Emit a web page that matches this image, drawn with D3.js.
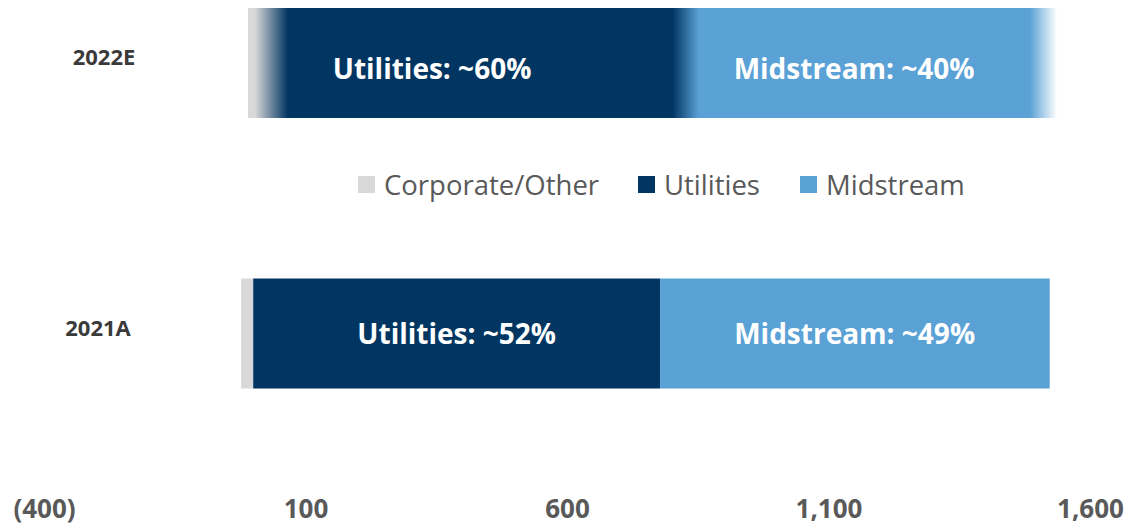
<!DOCTYPE html>
<html>
<head>
<meta charset="utf-8">
<script src="https://cdn.jsdelivr.net/npm/d3@7"></script>
<style>
  body { margin: 0; background: #fff; }
  text { font-family: "Open Sans", "DejaVu Sans", sans-serif; }
</style>
</head>
<body>
<div id="chart"></div>
<script>
const w = 1133;
const h = 525;
const barH = 110;

// data
const years = ["2022E", "2021A"];
const corporate = [-10, -23];
const utilities = [827, 778];
const midstream = [684, 745];
// 2022E is an estimate: soft transitions between segments (value ranges)
const fade2022 = [[3, 66], [802, 852], [1485, 1537]];
const utilLabels = ["Utilities: ~60%", "Utilities: ~52%"];
const midLabels = ["Midstream: ~40%", "Midstream: ~49%"];
const labelAt = [[342, 1149], [389, 1150]];
const ticks = [-400, 100, 600, 1100, 1600];
const series = ["Corporate/Other", "Utilities", "Midstream"];

const colors = {
  "Corporate/Other": "#d9d9d9",
  "Utilities": "#023662",
  "Midstream": "#5aa1d6"
};

var svg = d3.select("#chart")
  .append("svg")
    .attr("width", w)
    .attr("height", h);

var x = d3.scaleLinear()
  .domain([-400, 1600])
  .range([44, 1090]);

var y = d3.scalePoint()
  .domain(years)
  .range([63, 333.5]);

var defs = svg.append("defs");

// gradient for the estimated bar
var f = fade2022;
var x0 = x(corporate[0]), x1 = x(f[2][1]);
var pos = (v) => (x(v) - x0) / (x1 - x0);
var grad = defs.append("linearGradient")
  .attr("id", "est")
  .attr("gradientUnits", "userSpaceOnUse")
  .attr("x1", x0).attr("x2", x1)
  .attr("y1", 0).attr("y2", 0);
[
  [0, colors["Corporate/Other"], 1],
  [pos(f[0][0]), colors["Corporate/Other"], 1],
  [pos(f[0][1]), colors["Utilities"], 1],
  [pos(f[1][0]), colors["Utilities"], 1],
  [pos(f[1][1]), colors["Midstream"], 1],
  [pos(f[2][0]), colors["Midstream"], 1],
  [1, colors["Midstream"], 0]
].forEach((s) => {
  grad.append("stop")
    .attr("offset", s[0])
    .attr("stop-color", s[1])
    .attr("stop-opacity", s[2]);
});

// 2022E bar
svg.append("rect")
  .attr("x", x0)
  .attr("y", y(years[0]) - barH / 2)
  .attr("width", x1 - x0)
  .attr("height", barH)
  .attr("fill", "url(#est)");

// 2021A bar, stacked segments
var i1 = 1;
var segs = [
  { key: "Corporate/Other", a: corporate[i1], b: 0 },
  { key: "Utilities", a: 0, b: utilities[i1] },
  { key: "Midstream", a: utilities[i1], b: utilities[i1] + midstream[i1] }
];
svg.selectAll(".seg")
  .data(segs)
  .enter()
  .append("rect")
    .attr("class", "seg")
    .attr("x", (d) => x(d.a))
    .attr("y", y(years[1]) - barH / 2)
    .attr("width", (d) => x(d.b) - x(d.a))
    .attr("height", barH)
    .attr("fill", (d) => colors[d.key]);

// bar labels
var labelShift = [16, 10];
years.forEach((yr, i) => {
  [utilLabels[i], midLabels[i]].forEach((t, j) => {
    svg.append("text")
      .attr("x", x(labelAt[i][j]))
      .attr("y", y(yr) + labelShift[i])
      .attr("text-anchor", "middle")
      .attr("fill", "#fff")
      .attr("font-weight", "bold")
      .attr("font-size", "28px")
      .text(t);
  });
});

// year labels
var yearX = [104, 98];
svg.selectAll(".year")
  .data(years)
  .enter()
  .append("text")
    .attr("class", "year")
    .attr("x", (d, i) => yearX[i])
    .attr("y", (d) => y(d) + 2)
    .attr("text-anchor", "middle")
    .attr("fill", "#3a3a3a")
    .attr("font-weight", "bold")
    .attr("font-size", "22px")
    .text((d) => d);

// legend
var legendX = [358, 638, 800];
var legend = svg.append("g").attr("transform", "translate(0,185)");
series.forEach((s, i) => {
  legend.append("rect")
    .attr("x", legendX[i])
    .attr("y", -9)
    .attr("width", 17)
    .attr("height", 17)
    .attr("fill", colors[s]);
  legend.append("text")
    .attr("x", legendX[i] + 26)
    .attr("y", 10)
    .attr("fill", "#595959")
    .attr("font-size", "27.5px")
    .text(s);
});

// x axis
var fmt = (d) => d < 0 ? "(" + d3.format(",")(-d) + ")" : d3.format(",")(d);
var axis = svg.append("g")
  .attr("transform", "translate(0,490)")
  .call(d3.axisBottom(x).tickValues(ticks).tickFormat(fmt).tickSize(0));
axis.select(".domain").remove();
axis.selectAll("text")
  .attr("y", 28)
  .attr("dy", 0)
  .attr("fill", "#595959")
  .attr("font-family", "'Open Sans', sans-serif")
  .attr("font-weight", "bold")
  .attr("font-size", "26px");
</script>
</body>
</html>
